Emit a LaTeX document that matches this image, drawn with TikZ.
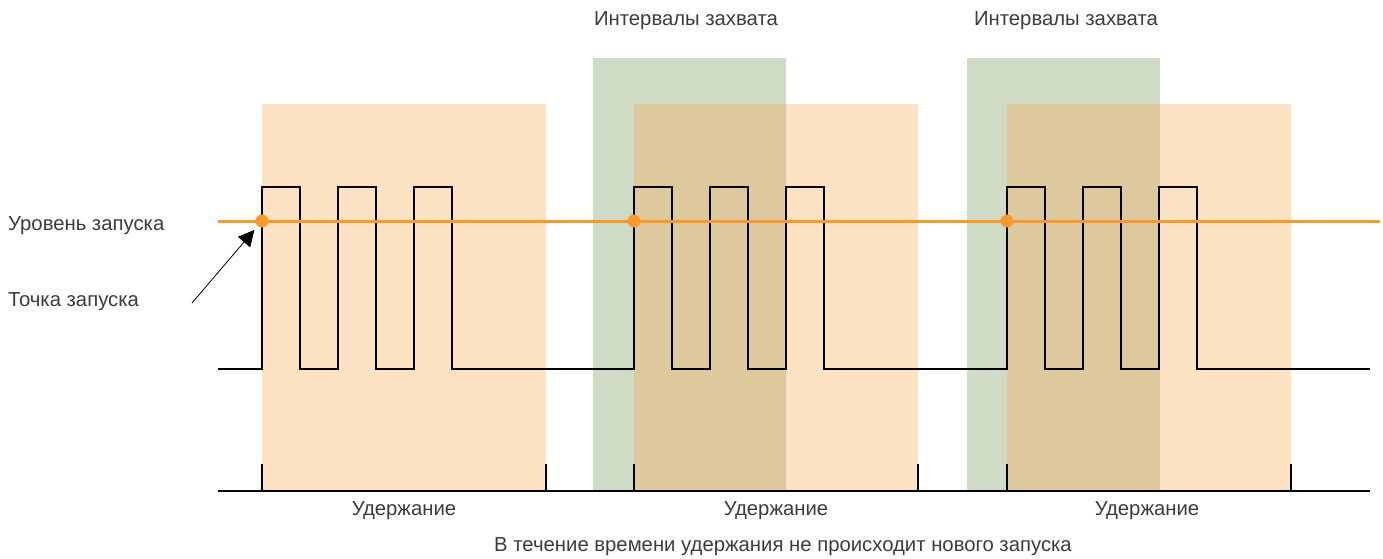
\documentclass[tikz,border=0pt]{standalone}
\usepackage{fontspec}
\setmainfont{Liberation Sans}
\usetikzlibrary{arrows.meta}

\definecolor{trigorange}{RGB}{247,153,43}
\definecolor{holdorange}{RGB}{249,167,76}
\definecolor{capgreen}{RGB}{208,219,197}
\definecolor{labelgray}{RGB}{60,60,60}

\begin{document}
\begin{tikzpicture}[x=1pt, y=-1pt, >=Triangle,
    lbl/.style={text=labelgray, inner sep=0pt, font=\fontsize{20.3}{24}\selectfont},
    holdbox/.style={fill=holdorange, fill opacity=0.33},
    capbox/.style={fill=capgreen},
    trigdot/.style={circle, fill=trigorange, inner sep=0pt, minimum size=13pt}]
    \useasboundingbox (0,0) rectangle (1383,558);

    % Capture intervals
    \fill[capbox] (593,58) rectangle (786,491);
    \fill[capbox] (967,58) rectangle (1160,491);
    \node[lbl] (cap1) at (686,21) {Интервалы захвата};
    \node[lbl] (cap2) at (1066,21) {Интервалы захвата};

    % Hold-off intervals
    \foreach \s in {262,634,1007}
        \fill[holdbox] (\s,104) rectangle (\s+284,491);

    % Signal
    \draw[line width=2pt] (218,369)
        \foreach \s in {262,634,1007} {
            -- (\s,369)
            \foreach \k in {0,76,152} {
                -- (\s+\k,369) -- (\s+\k,187) -- (\s+\k+38,187) -- (\s+\k+38,369)
            }
        } -- (1370,369);

    % Trigger level
    \draw[trigorange, line width=3pt] (218,221) -- (1380,221);
    \node[lbl, anchor=west] (level) at (8,226) {Уровень запуска};
    \node[trigdot] (trig1) at (262,221) {};
    \node[trigdot] (trig2) at (634,221) {};
    \node[trigdot] (trig3) at (1007,221) {};

    % Trigger point
    \node[lbl, anchor=west] (point) at (8,302) {Точка запуска};
    \coordinate (ptail) at (192,303);
    \draw[->, line width=0.8pt, shorten >=5pt, >={Triangle[length=16pt, width=16pt]}] (ptail) -- (trig1);

    % Time axis
    \draw[line width=2pt] (218,491) -- (1370,491);
    \foreach \s in {262,634,1007} {
        \draw[line width=2pt] (\s,464) -- (\s,491);
        \draw[line width=2pt] (\s+284,464) -- (\s+284,491);
    }
    \node[lbl] (hold1) at (404,511) {Удержание};
    \node[lbl] (hold2) at (776,511) {Удержание};
    \node[lbl] (hold3) at (1147,511) {Удержание};
    \node[lbl] (note) at (783,547) {В течение времени удержания не происходит нового запуска};
\end{tikzpicture}
\end{document}
